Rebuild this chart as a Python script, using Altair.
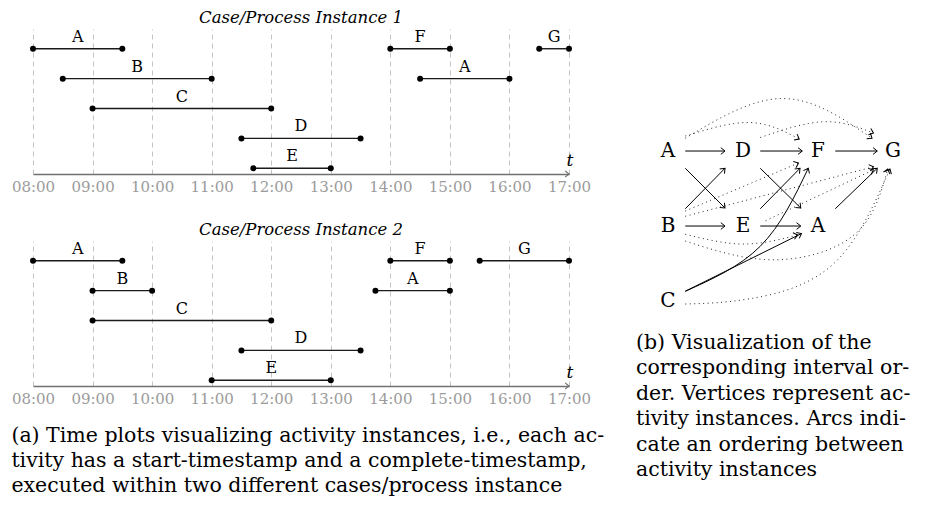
import numpy as np
import pandas as pd
import altair as alt

FONT = "DejaVu Serif"

# ---------------- time plots ----------------
hours = [8, 9, 10, 11, 12, 13, 14, 15, 16, 17]
hour_labels = ["08:00", "09:00", "10:00", "11:00", "12:00",
               "13:00", "14:00", "15:00", "16:00", "17:00"]

case1_act = ["A", "B", "C", "D", "E", "F", "G", "A"]
case1_start = [8.0, 8.5, 9.0, 11.5, 11.7, 14.0, 16.5, 14.5]
case1_end = [9.5, 11.0, 12.0, 13.5, 13.0, 15.0, 17.0, 16.0]
case1_row = [1, 2, 3, 4, 5, 1, 1, 2]

case2_act = ["A", "B", "C", "D", "E", "F", "G", "A"]
case2_start = [8.0, 9.0, 9.0, 11.5, 11.0, 14.0, 15.5, 13.75]
case2_end = [9.5, 10.0, 12.0, 13.5, 13.0, 15.0, 17.0, 15.0]
case2_row = [1, 2, 3, 4, 5, 1, 1, 2]

panel_titles = ["Case/Process Instance 1", "Case/Process Instance 2"]

# ---------------- interval order graph ----------------
node_label = ["A", "D", "F", "G", "B", "E", "A", "C"]
node_col = [0, 1, 2, 3, 0, 1, 2, 0]
node_row = [0, 0, 0, 0, 1, 1, 1, 2]

edge_name = ["A-D", "D-F", "F-G", "B-E", "E-A", "A-E", "B-D", "D-A", "E-F", "A-G",
             "C-F", "C-A",
             "A-G*", "A-F*", "D-G*", "B-F*", "B-G*", "E-G*", "B-A*", "B-G**", "C-G*"]
edge_style = ["solid"] * 12 + ["dotted"] * 9
edge_xs = [
    [0.23, 0.76], [1.23, 1.79], [2.23, 2.79], [0.23, 0.76], [1.23, 1.77],
    [0.23, 0.76], [0.23, 0.76], [1.23, 1.77], [1.23, 1.76], [2.23, 2.79],
    [0.23, 1.23, 1.87], [0.23, 1.78],
    [0.23, 1.53, 2.72], [0.23, 1.09, 1.75], [1.23, 2.07, 2.74],
    [0.23, 1.74], [0.23, 2.74], [1.30, 2.74],
    [0.23, 1.00, 1.73], [0.23, 1.40, 2.49, 2.93], [0.23, 1.09, 2.20, 2.96],
]
edge_ys = [
    [0.0, 0.0], [0.0, 0.0], [0.0, 0.0], [1.0, 1.0], [1.0, 1.0],
    [0.23, 0.76], [0.77, 0.23], [0.23, 0.76], [0.77, 0.23], [0.77, 0.23],
    [1.87, 1.27, 0.23], [1.87, 1.10],
    [-0.17, -0.70, -0.17], [-0.20, -0.38, -0.16], [-0.18, -0.39, -0.24],
    [0.80, 0.16], [0.87, 0.21], [0.93, 0.25],
    [1.11, 1.24, 1.12], [1.20, 1.45, 1.11, 0.24], [2.04, 1.97, 1.51, 0.24],
]

caption_a = ["(a) Time plots visualizing activity instances, i.e., each ac-",
             "tivity has a start-timestamp and a complete-timestamp,",
             "executed within two different cases/process instance"]
caption_b = ["(b) Visualization of the",
             "corresponding interval or-",
             "der. Vertices represent ac-",
             "tivity instances. Arcs indi-",
             "cate an ordering between",
             "activity instances"]

ARROW = "M-1,-0.8L0,0L-1,0.8"
ROW_TOP, ROW_BOTTOM = 0.34, 5.19
CAP_SIZE = 20.5

label_expr = "[" + ",".join("'%s'" % s for s in hour_labels) + "][datum.value - 8]"


def xenc(field):
    return alt.X(field + ":Q",
                 scale=alt.Scale(domain=[hours[0], hours[-1]], nice=False, zero=False),
                 axis=alt.Axis(values=hours, labelExpr=label_expr, grid=True,
                               gridDash=[5, 4], gridColor="#c4c4c4", gridWidth=1,
                               ticks=False, domainColor="#707070", domainWidth=1.6,
                               labelColor="#9b9b9b", labelFont=FONT, labelFontSize=15,
                               labelPadding=5, title=None, labelFlush=False,
                               labelOverlap=False))


def yenc(field):
    return alt.Y(field + ":Q",
                 scale=alt.Scale(domain=[ROW_TOP, ROW_BOTTOM], reverse=True,
                                 nice=False, zero=False),
                 axis=None)


def time_panel(act, start, end, row, title):
    df = pd.DataFrame({"activity": act, "start": start, "end": end, "row": row})
    df["mid"] = (df["start"] + df["end"]) / 2
    base = alt.Chart(df)
    bars = base.mark_rule(color="#1a1a1a", strokeWidth=1.4).encode(
        x=xenc("start"), x2="end:Q", y=yenc("row"))
    p_start = base.mark_circle(size=36, color="black", opacity=1).encode(
        x=xenc("start"), y=yenc("row"))
    p_end = base.mark_circle(size=36, color="black", opacity=1).encode(
        x=xenc("end"), y=yenc("row"))
    lab = base.mark_text(font=FONT, fontSize=16, dy=-12, color="black").encode(
        x=xenc("mid"), y=yenc("row"), text="activity:N")
    axis_df = pd.DataFrame({"t": [float(hours[-1])], "row": [ROW_BOTTOM], "lbl": ["t"]})
    arrow = alt.Chart(axis_df).mark_point(
        shape=ARROW, size=60, filled=False, color="#707070", strokeWidth=1.2,
        opacity=1).encode(x=xenc("t"), y=yenc("row"))
    tlab = alt.Chart(axis_df).mark_text(
        font=FONT, fontStyle="italic", fontSize=17, dy=-13, dx=1, color="black").encode(
        x=xenc("t"), y=yenc("row"), text="lbl:N")
    return alt.layer(bars, p_start, p_end, lab, arrow, tlab).properties(
        width=536, height=145,
        title=alt.TitleParams(title, font=FONT, fontStyle="italic", fontSize=16.5,
                              fontWeight="normal", color="black", offset=2))


panel1 = time_panel(case1_act, case1_start, case1_end, case1_row, panel_titles[0])
panel2 = time_panel(case2_act, case2_start, case2_end, case2_row, panel_titles[1])


# ---------------- graph ----------------
def end_angle(xs, ys):
    P = np.column_stack([xs, ys]).astype(float)
    n = len(P)
    if n == 2:
        d = P[1] - P[0]
    else:
        A = np.zeros((n - 2, n - 2))
        rhs = np.zeros((n - 2, 2))
        for i in range(1, n - 1):
            A[i - 1, i - 1] = 4
            if i - 2 >= 0:
                A[i - 1, i - 2] = 1
            if i < n - 2:
                A[i - 1, i] = 1
            rhs[i - 1] = 6 * (P[i + 1] - 2 * P[i] + P[i - 1])
        M = np.linalg.solve(A, rhs)
        d = (P[-1] - P[-2]) + M[-1] / 6.0
    return float(np.degrees(np.arctan2(d[1], d[0])) % 360)


path_rows, head_rows = [], []
for name, style, xs, ys in zip(edge_name, edge_style, edge_xs, edge_ys):
    for k, (gx, gy) in enumerate(zip(xs, ys)):
        path_rows.append({"edge": name, "seq": k, "gx": gx, "gy": gy, "style": style})
    head_rows.append({"edge": name, "gx": xs[-1], "gy": ys[-1], "style": style,
                      "angle": end_angle(xs, ys)})
paths = pd.DataFrame(path_rows)
heads = pd.DataFrame(head_rows)
nodes = pd.DataFrame({"label": node_label, "gx": node_col, "gy": node_row})

UNIT = 75.0
GX0, GX1 = -0.4267, 3.30
GY0, GY1 = -1.627, 2.24
gxs = alt.Scale(domain=[GX0, GX1], nice=False, zero=False)
gys = alt.Scale(domain=[GY0, GY1], nice=False, zero=False, reverse=True)
GXE = alt.X("gx:Q", scale=gxs, axis=None)
GYE = alt.Y("gy:Q", scale=gys, axis=None)

solid_lines = alt.Chart(paths).transform_filter("datum.style == 'solid'").mark_line(
    interpolate="natural", color="black", strokeWidth=1).encode(
    x=GXE, y=GYE, detail="edge:N", order="seq:Q")
dotted_lines = alt.Chart(paths).transform_filter("datum.style == 'dotted'").mark_line(
    interpolate="natural", color="black", strokeWidth=1, strokeDash=[1, 3.5],
    opacity=0.85).encode(x=GXE, y=GYE, detail="edge:N", order="seq:Q")
arrowheads = alt.Chart(heads).mark_point(
    shape=ARROW, size=70, filled=False, color="black", strokeWidth=1, opacity=1).encode(
    x=GXE, y=GYE, angle=alt.Angle("angle:Q", scale=None))
node_text = alt.Chart(nodes).mark_text(font=FONT, fontSize=20, color="black").encode(
    x=GXE, y=GYE, text="label:N")

graph = alt.layer(solid_lines, dotted_lines, arrowheads, node_text).properties(
    width=UNIT * (GX1 - GX0), height=UNIT * (GY1 - GY0),
    title=alt.TitleParams(caption_b, orient="bottom", anchor="start", font=FONT,
                          fontSize=CAP_SIZE, fontWeight="normal", color="black",
                          lineHeight=25.4, offset=14))

left = alt.vconcat(panel1, panel2, spacing=28,
                   title=alt.TitleParams(caption_a, orient="bottom", anchor="start",
                                         font=FONT, fontSize=CAP_SIZE, fontWeight="normal",
                                         color="black", lineHeight=25, offset=20))

chart = alt.hconcat(left, graph, spacing=31).configure_view(stroke=None).properties(
    padding={"left": 3, "top": 2, "right": 0, "bottom": 0}, background="white")

chart.save("out.html", embed_options={"renderer": "svg", "actions": False})
